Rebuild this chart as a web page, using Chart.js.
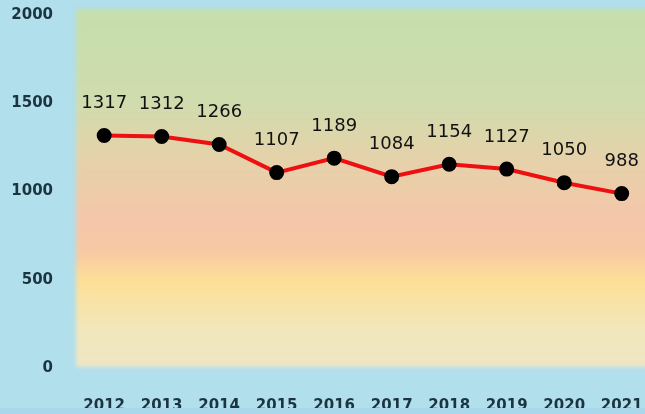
<!DOCTYPE html>
<html>
<head>
<meta charset="utf-8">
<script src="https://cdn.jsdelivr.net/npm/chart.js@4"></script>
<style>
  html, body { margin: 0; padding: 0; background: #b1dfec; }
  #wrap { width: 645px; height: 414px; }
</style>
</head>
<body>
<div id="wrap"><canvas id="lineChart"></canvas></div>
<script>
const years = [2012, 2013, 2014, 2015, 2016, 2017, 2018, 2019, 2020, 2021];
const counts = [1317, 1312, 1266, 1107, 1189, 1084, 1154, 1127, 1050, 988];
const y_ticks = [0, 500, 1000, 1500, 2000];

// painted background behind the plot area
const bandBackground = {
  id: "bandBackground",
  beforeDraw(chart) {
    const { ctx, chartArea } = chart;
    const top = chartArea.top - 6;
    const bottom = chartArea.bottom - 1;
    const g = ctx.createLinearGradient(0, top, 0, bottom);
    g.addColorStop(0, "#c6dfac");
    g.addColorStop(0.25, "#cfdcae");
    g.addColorStop(0.4, "#e3d3aa");
    g.addColorStop(0.6, "#f6c6aa");
    g.addColorStop(0.68, "#f8c9a4");
    g.addColorStop(0.76, "#fde096");
    g.addColorStop(0.9, "#f2e7bc");
    g.addColorStop(1, "#eee6c4");
    ctx.save();
    ctx.filter = "blur(2px)";
    ctx.fillStyle = g;
    ctx.fillRect(chartArea.left, top, chartArea.right - chartArea.left + 20, bottom - top);
    ctx.restore();
  },
  afterDraw(chart) {
    // the picture is trimmed just under the year labels
    const { ctx, width, height } = chart;
    ctx.save();
    ctx.fillStyle = "#a9d7eb";
    ctx.fillRect(0, height - 6, width, 6);
    ctx.restore();
  },
};

// value labels above each point
const valueLabels = {
  id: "valueLabels",
  afterDatasetsDraw(chart) {
    const { ctx } = chart;
    const meta = chart.getDatasetMeta(0);
    ctx.save();
    ctx.font = "18px 'DejaVu Sans'";
    ctx.fillStyle = "#111111";
    ctx.textAlign = "center";
    ctx.textBaseline = "middle";
    meta.data.forEach((pt, i) => {
      ctx.fillText(String(counts[i]), pt.x, pt.y - 32);
    });
    ctx.restore();
  },
};

const chart_ctx = document.getElementById("lineChart");
const data = {
  datasets: [
    {
      label: "count",
      data: years.map((y, i) => ({ x: y, y: counts[i] })),
      borderColor: "#ee1010",
      borderWidth: 4,
      pointBackgroundColor: "#000000",
      pointBorderColor: "#000000",
      pointRadius: 5.5,
      tension: 0,
    },
  ],
};
const config = {
  type: "line",
  data,
  plugins: [bandBackground, valueLabels],
  options: {
    responsive: true,
    maintainAspectRatio: false,
    animation: false,
    layout: { padding: { top: 15, left: 0, right: 0, bottom: 0 } },
    plugins: { legend: { display: false }, tooltip: { enabled: false } },
    scales: {
      x: {
        type: "linear",
        min: 2011.51,
        max: 2021.24,
        grid: { display: false, drawTicks: false },
        border: { display: false },
        afterBuildTicks: (axis) => {
          axis.ticks = years.map((v) => ({ value: v }));
        },
        afterFit: (axis) => {
          axis.height = 46;
          axis.paddingLeft = 0;
          axis.paddingRight = 0;
        },
        ticks: {
          padding: 29,
          color: "#1c3440",
          font: { family: "DejaVu Sans", size: 15, weight: "bold" },
          callback: (v) => String(v),
          maxRotation: 0,
          autoSkip: false,
        },
      },
      y: {
        min: 0,
        max: 2000,
        grid: { display: false, drawTicks: false },
        border: { display: false },
        afterBuildTicks: (axis) => {
          axis.ticks = y_ticks.map((v) => ({ value: v }));
        },
        afterFit: (axis) => {
          axis.width = 76;
          axis.paddingTop = 0;
          axis.paddingBottom = 0;
        },
        ticks: {
          padding: 23,
          color: "#1c3440",
          font: { family: "DejaVu Sans", size: 15, weight: "bold" },
          callback: (v) => String(v),
        },
      },
    },
  },
};
new Chart(chart_ctx, config);
</script>
</body>
</html>
